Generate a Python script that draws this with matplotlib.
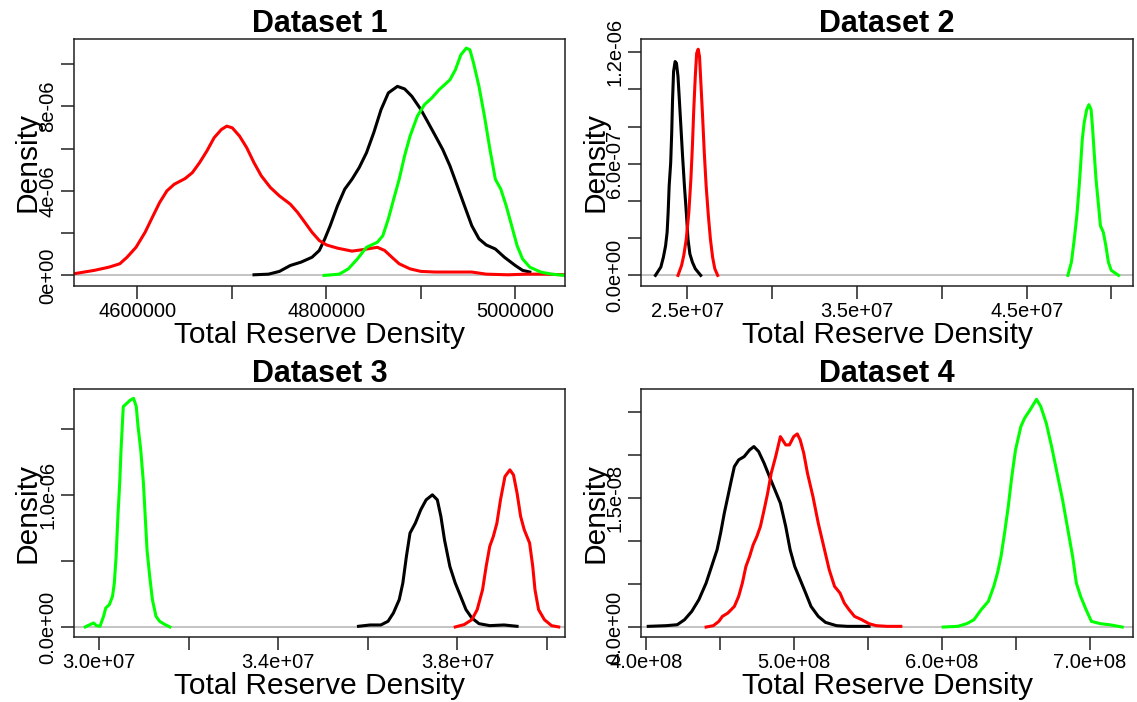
import matplotlib
matplotlib.use('Agg')
import matplotlib.pyplot as plt
import numpy as np

###############################################
# CONFIGURACION GENERAL
###############################################

plt.rc('font', family=['Liberation Sans', 'DejaVu Sans'])
plt.rc(('xtick', 'ytick'), labelsize=14.5, direction='out')
plt.rc('axes', linewidth=1.1, edgecolor='#202020')

COLORES = {'negro': '#000000', 'rojo': '#FF0000', 'verde': '#00FF00'}

####################
# DATOS (leidos)
####################

# Dataset 1 : x en miles, densidad en 1e-06
d1_x_negro = [4723.6, 4739.0, 4750.5, 4762.0, 4773.5, 4785.0, 4792.7, 4798.5, 4804.2,
              4811.9, 4819.6, 4827.3, 4834.9, 4842.6, 4850.3, 4858.0, 4865.7, 4875.3,
              4882.9, 4890.6, 4900.2, 4907.9, 4915.6, 4923.2, 4930.9, 4938.6, 4946.3,
              4954.0, 4961.6, 4969.3, 4978.9, 4988.5, 5000.0, 5007.7, 5015.4]
d1_y_negro = [0.03, 0.06, 0.19, 0.47, 0.63, 0.86, 1.18, 1.73, 2.35, 3.29, 4.08, 4.55,
              5.10, 5.80, 6.75, 7.84, 8.63, 8.94, 8.82, 8.47, 7.84, 7.22, 6.59, 5.96,
              5.18, 4.24, 3.29, 2.35, 1.73, 1.44, 1.25, 0.86, 0.47, 0.24, 0.16]
d1_x_rojo = [4533.2, 4554.7, 4570.1, 4581.6, 4589.3, 4598.8, 4608.4, 4616.1, 4623.8,
             4631.5, 4639.2, 4650.7, 4658.4, 4666.0, 4673.7, 4681.4, 4689.1, 4694.8,
             4700.6, 4708.3, 4715.9, 4723.6, 4731.3, 4740.9, 4750.5, 4762.0, 4769.7,
             4777.4, 4785.0, 4792.7, 4800.4, 4811.9, 4827.3, 4838.8, 4854.1, 4861.8,
             4869.5, 4877.2, 4888.7, 4900.2, 4915.6, 4954.0, 4969.3, 4992.3, 5011.5,
             5030.7, 5052.6]
d1_y_rojo = [0.08, 0.24, 0.39, 0.55, 0.86, 1.33, 2.04, 2.75, 3.45, 4.00, 4.31, 4.58,
             4.86, 5.33, 5.88, 6.51, 6.90, 7.06, 6.98, 6.59, 6.04, 5.33, 4.71, 4.16,
             3.76, 3.37, 2.98, 2.51, 2.04, 1.65, 1.44, 1.29, 1.15, 1.22, 1.33, 1.18,
             0.86, 0.55, 0.31, 0.19, 0.16, 0.16, 0.06, 0.03, 0.06, 0.06, 0.03]
d1_x_verde = [4797.7, 4813.8, 4823.4, 4833.0, 4842.6, 4854.1, 4859.9, 4865.7, 4871.4,
              4877.2, 4882.9, 4888.7, 4896.4, 4904.0, 4911.7, 4919.4, 4930.9, 4936.7,
              4942.4, 4948.2, 4952.0, 4955.9, 4961.6, 4967.4, 4973.2, 4978.9, 4984.7,
              4990.4, 4996.2, 5001.9, 5007.7, 5015.4, 5026.9, 5038.4, 5052.6]
d1_y_verde = [0.0, 0.06, 0.31, 0.78, 1.33, 1.57, 1.88, 2.67, 3.61, 4.55, 5.65, 6.59,
              7.53, 8.08, 8.39, 8.78, 9.25, 9.73, 10.43, 10.75, 10.67, 10.04, 8.94,
              7.53, 5.96, 4.55, 4.08, 3.29, 2.35, 1.41, 0.78, 0.39, 0.16, 0.06, 0.0]

# Dataset 2 : x en 1e+06, densidad en 1e-07
d2_x_negro = [23.12, 23.44, 23.59, 23.72, 23.81, 23.87, 23.93, 24.02, 24.08, 24.13,
              24.19, 24.28, 24.36, 24.45, 24.53, 24.62, 24.72, 24.83, 24.94, 25.04,
              25.15, 25.30, 25.47, 25.79]
d2_y_negro = [0.0, 0.45, 0.98, 1.60, 2.32, 3.39, 4.81, 6.06, 7.66, 9.45, 10.96, 11.50,
              11.41, 10.70, 9.45, 8.02, 6.42, 4.81, 3.39, 1.96, 1.16, 0.71, 0.36, 0.0]
d2_x_rojo = [24.45, 24.66, 24.79, 24.94, 25.09, 25.21, 25.30, 25.38, 25.47, 25.55,
             25.64, 25.72, 25.81, 25.90, 26.00, 26.11, 26.24, 26.36, 26.49, 26.62, 26.79]
d2_y_rojo = [0.0, 0.53, 1.07, 1.96, 3.39, 5.17, 6.95, 8.91, 10.70, 11.94, 12.16, 11.76,
             10.16, 8.56, 6.60, 4.81, 3.21, 1.96, 0.98, 0.36, 0.0]
d2_x_verde = [47.43, 47.64, 47.81, 47.96, 48.07, 48.18, 48.28, 48.39, 48.54, 48.67,
              48.80, 48.88, 48.97, 49.09, 49.24, 49.35, 49.52, 49.67, 49.82, 49.99, 50.42]
d2_y_verde = [0.0, 0.71, 1.96, 3.21, 4.46, 5.88, 7.31, 8.20, 8.91, 9.18, 8.91, 8.02,
              6.77, 5.17, 3.74, 2.67, 2.32, 1.60, 0.71, 0.27, 0.0]

# Dataset 3 : x en 1e+06, densidad en 1e-07
d3_x_negro = [35.79, 36.05, 36.29, 36.45, 36.57, 36.70, 36.78, 36.86, 36.94, 37.06,
              37.18, 37.30, 37.44, 37.55, 37.63, 37.71, 37.83, 37.95, 38.07, 38.19,
              38.32, 38.48, 38.72, 39.04, 39.33]
d3_y_negro = [0.05, 0.15, 0.15, 0.43, 1.06, 2.07, 3.32, 5.34, 7.10, 7.86, 8.87, 9.62,
              10.00, 9.62, 8.36, 6.60, 4.58, 3.32, 2.32, 1.31, 0.68, 0.25, 0.10, 0.15,
              0.05]
d3_x_rojo = [37.95, 38.15, 38.32, 38.44, 38.56, 38.64, 38.72, 38.80, 38.88, 38.96,
             39.06, 39.17, 39.25, 39.33, 39.41, 39.49, 39.61, 39.68, 39.73, 39.81,
             39.94, 40.10, 40.26]
d3_y_rojo = [0.0, 0.18, 0.55, 1.31, 2.82, 4.58, 6.10, 6.85, 7.86, 9.62, 11.39, 11.89,
             11.51, 10.13, 8.36, 7.36, 6.35, 4.58, 2.82, 1.31, 0.55, 0.10, 0.0]
d3_x_verde = [29.69, 29.80, 29.88, 29.94, 30.02, 30.10, 30.15, 30.23, 30.30, 30.34,
              30.38, 30.42, 30.46, 30.49, 30.54, 30.62, 30.70, 30.77, 30.83, 30.87,
              30.93, 30.99, 31.03, 31.07, 31.13, 31.19, 31.27, 31.35, 31.47, 31.58]
d3_y_verde = [0.0, 0.18, 0.30, 0.10, 0.05, 0.81, 1.44, 1.69, 2.32, 3.32, 5.34, 8.36,
              10.88, 13.40, 16.68, 16.93, 17.18, 17.30, 16.68, 15.16, 13.40, 10.88,
              8.36, 5.84, 3.83, 2.07, 0.81, 0.43, 0.18, 0.0]

# Dataset 4 : x en 1e+08, densidad en 1e-09
d4_x_negro = [4.017, 4.139, 4.213, 4.262, 4.311, 4.359, 4.408, 4.445, 4.482, 4.506,
              4.531, 4.555, 4.579, 4.599, 4.628, 4.665, 4.702, 4.731, 4.763, 4.800,
              4.836, 4.873, 4.910, 4.946, 4.976, 5.007, 5.044, 5.081, 5.117, 5.166,
              5.215, 5.289, 5.362, 5.509]
d4_y_negro = [0.08, 0.16, 0.27, 0.85, 1.82, 3.18, 5.12, 7.05, 8.99, 10.93, 13.26,
              15.19, 17.13, 18.68, 19.46, 19.84, 20.62, 21.01, 20.43, 19.07, 17.52,
              15.97, 14.42, 11.71, 8.99, 7.05, 5.50, 3.95, 2.40, 1.24, 0.54, 0.16,
              0.08, 0.08]
d4_x_rojo = [4.408, 4.457, 4.494, 4.518, 4.555, 4.599, 4.628, 4.653, 4.677, 4.702,
             4.726, 4.751, 4.775, 4.800, 4.824, 4.848, 4.878, 4.910, 4.946, 4.971,
             5.000, 5.024, 5.044, 5.068, 5.093, 5.130, 5.166, 5.203, 5.240, 5.276,
             5.313, 5.342, 5.374, 5.411, 5.460, 5.509, 5.557, 5.631, 5.724]
d4_y_rojo = [0.0, 0.16, 0.66, 1.24, 1.63, 2.40, 3.57, 5.12, 7.05, 8.22, 9.57, 10.54,
             11.71, 13.64, 15.58, 17.91, 19.84, 22.17, 21.20, 21.20, 22.17, 22.48,
             21.78, 20.23, 17.91, 15.19, 12.09, 9.38, 6.67, 4.73, 3.95, 2.79, 2.02,
             1.24, 0.85, 0.39, 0.16, 0.08, 0.08]
d4_x_verde = [6.010, 6.108, 6.169, 6.218, 6.267, 6.315, 6.352, 6.377, 6.401, 6.425,
              6.450, 6.474, 6.499, 6.535, 6.560, 6.597, 6.641, 6.670, 6.707, 6.743,
              6.780, 6.817, 6.853, 6.885, 6.910, 6.939, 6.976, 7.012, 7.073, 7.134,
              7.220]
d4_y_verde = [0.0, 0.08, 0.39, 0.85, 2.02, 2.98, 4.73, 6.28, 8.22, 10.93, 14.03,
              17.52, 20.62, 23.33, 24.30, 25.27, 26.51, 25.66, 23.72, 21.01, 17.91,
              14.81, 11.32, 8.22, 5.12, 3.57, 2.02, 0.66, 0.39, 0.27, 0.0]

# Ejes: ticks y etiquetas (etiquetas vacias = R las omite por solapamiento)
d1_xticks = [4600000, 4700000, 4800000, 4900000, 5000000]
d1_xlabels = ['4600000', '', '4800000', '', '5000000']
d1_yticks = [0, 2e-06, 4e-06, 6e-06, 8e-06, 1e-05]
d1_ylabels = ['0e+00', '', '4e-06', '', '8e-06', '']

d2_xticks = [2.5e7, 3.0e7, 3.5e7, 4.0e7, 4.5e7, 5.0e7]
d2_xlabels = ['2.5e+07', '', '3.5e+07', '', '4.5e+07', '']
d2_yticks = [0, 2e-07, 4e-07, 6e-07, 8e-07, 1e-06, 1.2e-06]
d2_ylabels = ['0.0e+00', '', '', '6.0e-07', '', '', '1.2e-06']

d3_xticks = [3.0e7, 3.2e7, 3.4e7, 3.6e7, 3.8e7, 4.0e7]
d3_xlabels = ['3.0e+07', '', '3.4e+07', '', '3.8e+07', '']
d3_yticks = [0, 5e-07, 1e-06, 1.5e-06]
d3_ylabels = ['0.0e+00', '', '1.0e-06', '']

d4_xticks = [4.0e8, 4.5e8, 5.0e8, 5.5e8, 6.0e8, 6.5e8, 7.0e8]
d4_xlabels = ['4.0e+08', '', '5.0e+08', '', '6.0e+08', '', '7.0e+08']
d4_yticks = [0, 5e-09, 1e-08, 1.5e-08, 2e-08, 2.5e-08]
d4_ylabels = ['0.0e+00', '', '', '1.5e-08', '', '']

paneles = [
    dict(titulo='Dataset 1', ux=1e3, uy=1e-6,
         curvas=[(d1_x_negro, d1_y_negro, 'negro'), (d1_x_rojo, d1_y_rojo, 'rojo'),
                 (d1_x_verde, d1_y_verde, 'verde')],
         xlim=(4533.2e3, 5052.6e3), ylim=(-0.50e-6, 11.18e-6),
         xt=(d1_xticks, d1_xlabels), yt=(d1_yticks, d1_ylabels)),
    dict(titulo='Dataset 2', ux=1e6, uy=1e-7,
         curvas=[(d2_x_negro, d2_y_negro, 'negro'), (d2_x_rojo, d2_y_rojo, 'rojo'),
                 (d2_x_verde, d2_y_verde, 'verde')],
         xlim=(22.27e6, 51.27e6), ylim=(-0.57e-7, 12.71e-7),
         xt=(d2_xticks, d2_xlabels), yt=(d2_yticks, d2_ylabels)),
    dict(titulo='Dataset 3', ux=1e6, uy=1e-7,
         curvas=[(d3_x_negro, d3_y_negro, 'negro'), (d3_x_rojo, d3_y_rojo, 'rojo'),
                 (d3_x_verde, d3_y_verde, 'verde')],
         xlim=(29.44e6, 40.40e6), ylim=(-0.76e-7, 18.01e-7),
         xt=(d3_xticks, d3_xlabels), yt=(d3_yticks, d3_ylabels)),
    dict(titulo='Dataset 4', ux=1e8, uy=1e-9,
         curvas=[(d4_x_negro, d4_y_negro, 'negro'), (d4_x_rojo, d4_y_rojo, 'rojo'),
                 (d4_x_verde, d4_y_verde, 'verde')],
         xlim=(3.968e8, 7.293e8), ylim=(-1.16e-9, 27.71e-9),
         xt=(d4_xticks, d4_xlabels), yt=(d4_yticks, d4_ylabels)),
]

##########################
# FIGURA
##########################

W, H = 1137, 702
fig = plt.figure(figsize=(W / 100, H / 100), dpi=100)

# cajas en pixeles (izq, arriba, der, abajo)
cajas = [(74, 39, 565, 286), (641, 39, 1133, 286),
         (74, 389, 565, 637), (641, 389, 1133, 637)]

for p, (x0, y0, x1, y1) in zip(paneles, cajas):
    ax = fig.add_axes([x0 / W, 1 - y1 / H, (x1 - x0) / W, (y1 - y0) / H])
    ancho, alto = x1 - x0, y1 - y0

    ax.axhline(0, color='#bebebe', lw=1.3, zorder=1)
    for xs, ys, c in p['curvas']:
        ax.plot(np.array(xs) * p['ux'], np.array(ys) * p['uy'],
                color=COLORES[c], lw=2.2, zorder=2)

    ax.set_xlim(p['xlim'])
    ax.set_ylim(p['ylim'])
    ax.set_xticks(p['xt'][0])
    ax.set_xticklabels(p['xt'][1])
    ax.set_yticks(p['yt'][0])
    ax.set_yticklabels(p['yt'][1], rotation=90, va='center')
    ax.tick_params(axis='both', length=9.4, width=1.1, color='#202020')
    ax.tick_params(axis='x', pad=2)
    ax.tick_params(axis='y', pad=2.5)

    ax.set_title(p['titulo'], fontsize=22, fontweight='bold', pad=4.3)
    ax.set_xlabel('Total Reserve Density', fontsize=21.5, va='baseline')
    ax.xaxis.set_label_coords(0.5, -57 / alto)
    ax.set_ylabel('Density', fontsize=21.5, va='baseline')
    ax.yaxis.set_label_coords(-38 / ancho, 0.5)

fig.savefig('out.png', dpi=100)
